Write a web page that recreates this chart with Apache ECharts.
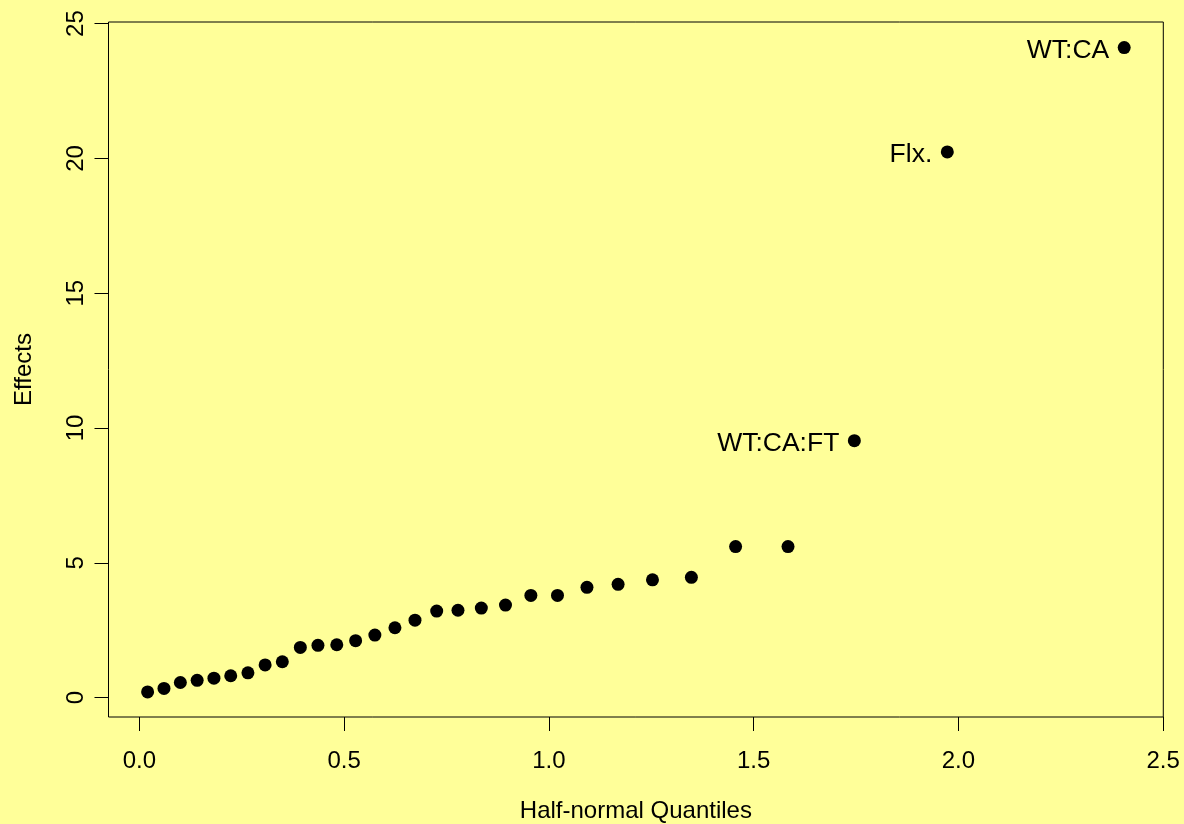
<!DOCTYPE html>
<html>
<head>
<meta charset="utf-8">
<script src="https://cdn.jsdelivr.net/npm/echarts@6/dist/echarts.min.js"></script>
<style>
html,body{margin:0;padding:0;background:#FFFF99;}
#c{width:1184px;height:824px;}
</style>
</head>
<body>
<div id="c"></div>
<script>
// Half-normal quantiles (x) and absolute effects (y)
var quantiles = [0.020,0.060,0.100,0.141,0.182,0.223,0.265,0.307,0.349,0.393,
                 0.436,0.482,0.528,0.575,0.624,0.673,0.726,0.778,0.835,0.894,
                 0.956,1.021,1.093,1.169,1.253,1.348,1.456,1.584,1.746,1.973,2.405];
var effects   = [0.21,0.34,0.56,0.64,0.72,0.81,0.92,1.21,1.33,1.86,
                 1.94,1.96,2.11,2.32,2.59,2.87,3.21,3.24,3.32,3.43,
                 3.79,3.79,4.09,4.20,4.37,4.46,5.60,5.60,9.53,20.24,24.11];
var pointLabels = ['','','','','','','','','','','','','','','','','','','','',
                   '','','','','','','','','WT:CA:FT','Flx.','WT:CA'];
var xTicks = [0,0.5,1,1.5,2,2.5];
var yTicks = [0,5,10,15,20,25];
var xName = 'Half-normal Quantiles';
var yName = 'Effects';

var FONT = 'Liberation Sans, Arial, sans-serif';
var data = quantiles.map(function(q,i){
  var item = {value:[q,effects[i]], name: pointLabels[i]};
  if (pointLabels[i]) {
    item.label = {show:true, position:'left', distance:8.5, formatter:'{b}',
      color:'#000', fontFamily:FONT, fontSize:26.5, offset:[0,3]};
  }
  return item;
});

var chart = echarts.init(document.getElementById('c'), null, {renderer:'canvas'});
chart.setOption({
  backgroundColor:'#FFFF99',
  animation:false,
  grid:{left:108.5, right:20.7, top:22, bottom:107, outerBoundsMode:'none', containLabel:false,
        show:true, borderColor:'#000', borderWidth:1, backgroundColor:'transparent'},
  xAxis:{
    type:'value', min:-0.0755, max:2.5005,
    name:xName, nameLocation:'middle', nameGap:82,
    nameTextStyle:{color:'#000', fontFamily:FONT, fontSize:24},
    axisLine:{show:false, onZero:false},
    splitLine:{show:false},
    axisTick:{show:true, inside:false, length:14, customValues:xTicks, lineStyle:{color:'#000'}},
    axisLabel:{customValues:xTicks, margin:32, color:'#000', fontFamily:FONT, fontSize:24,
      formatter:function(v){return v.toFixed(1);}}
  },
  yAxis:{
    type:'value', min:-0.72, max:25.06,
    name:yName, nameLocation:'middle', nameGap:72,
    nameTextStyle:{color:'#000', fontFamily:FONT, fontSize:24},
    axisLine:{show:false, onZero:false},
    splitLine:{show:false},
    axisTick:{show:true, inside:false, length:14, customValues:yTicks, lineStyle:{color:'#000'}},
    axisLabel:{customValues:yTicks, rotate:90, margin:20, color:'#000', fontFamily:FONT, fontSize:24,
      formatter:function(v){return String(v);}}
  },
  series:[{
    type:'scatter',
    symbol:'circle', symbolSize:13,
    itemStyle:{color:'#000', opacity:1},
    data:data
  }]
});
</script>
</body>
</html>
